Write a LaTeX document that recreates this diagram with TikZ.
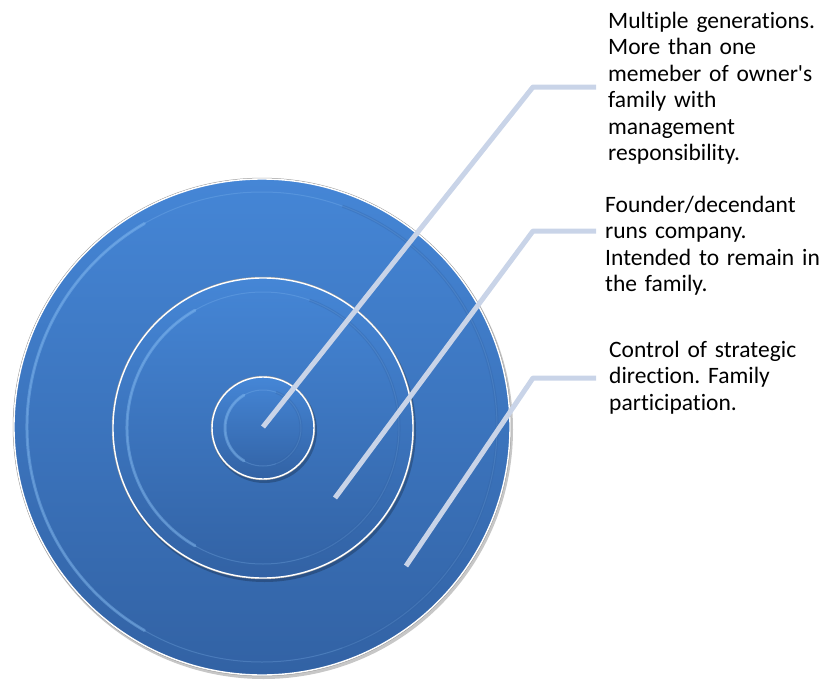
\documentclass[tikz,border=0pt]{standalone}
\usepackage{fontspec}
\setmainfont{Carlito}[Ligatures={TeXOff,NoCommon}, WordSpace=0.85]
\definecolor{bluetop}{HTML}{4586D6}
\definecolor{bluebot}{HTML}{3262A4}
\definecolor{leadcol}{HTML}{C9D4E8}
\definecolor{hilite}{HTML}{8CC2F6}
\definecolor{rimgray}{HTML}{9A9A9A}
\tikzset{
  disk/.style={circle, inner sep=0pt, top color=bluetop, bottom color=bluebot, draw=white, line width=1.4pt},
  bevel/.style={circle, inner sep=0pt, draw=hilite, draw opacity=0.25, line width=1pt},
  hl/.style={hilite, line width=3pt, opacity=0.4, line cap=round},
  leader/.style={leadcol, line width=5pt, line join=round},
  lbl/.style={inner sep=0pt, align=left, text width=240pt, font=\fontsize{23.5}{26.5}\selectfont\frenchspacing}
}
\newcommand{\targetring}[5]{%
  % #1 name, #2 x, #3 y, #4 radius, #5 inset
  \fill[black, opacity=0.22] (#2+1.5,#3+2.5) circle (#4+1.5);
  \draw[rimgray, line width=0.8pt] (#2,#3) circle (#4+0.8);
  \node[disk, minimum size=2*#4pt] (#1) at (#2,#3) {};
  \node[bevel, minimum size=2*(#4-#5)*1pt] (#1in) at (#2,#3) {};
  \draw[hl] (#2,#3) ++(120:#4-#5) arc[start angle=120, end angle=240, radius=#4-#5];
  \draw[bluebot, opacity=0.3, line width=3pt] (#2,#3) ++(-70:#4-#5) arc[start angle=-70, end angle=70, radius=#4-#5];
}
\begin{document}
\begin{tikzpicture}[x=1pt,y=-1pt]
\useasboundingbox (0,0) rectangle (820,680);
\targetring{outer}{262}{427}{248}{13}
\targetring{middle}{263}{428}{150}{14}
\targetring{inner}{263}{428}{51}{13}
% leaders
\coordinate (e1) at (263,427);
\coordinate (k1) at (533,87);
\coordinate (h1) at (596,87);
\coordinate (e2) at (335,498);
\coordinate (k2) at (533,231);
\coordinate (h2) at (596,231);
\coordinate (e3) at (406,566);
\coordinate (k3) at (533,378);
\coordinate (h3) at (596,378);
\draw[leader] (e1) -- (k1) -- (h1);
\draw[leader] (e2) -- (k2) -- (h2);
\draw[leader] (e3) -- (k3) -- (h3);
% labels
\node[lbl, anchor=base west] (t1) at (608,28) {Multiple generations.\\More than one\\memeber of owner's\\family with\\management\\responsibility.};
\node[lbl, anchor=base west] (t2) at (605,212) {Founder/decendant\\runs company.\\Intended to remain in\\the family.};
\node[lbl, anchor=base west] (t3) at (609,357) {Control of strategic\\direction. Family\\participation.};
\end{tikzpicture}
\end{document}
